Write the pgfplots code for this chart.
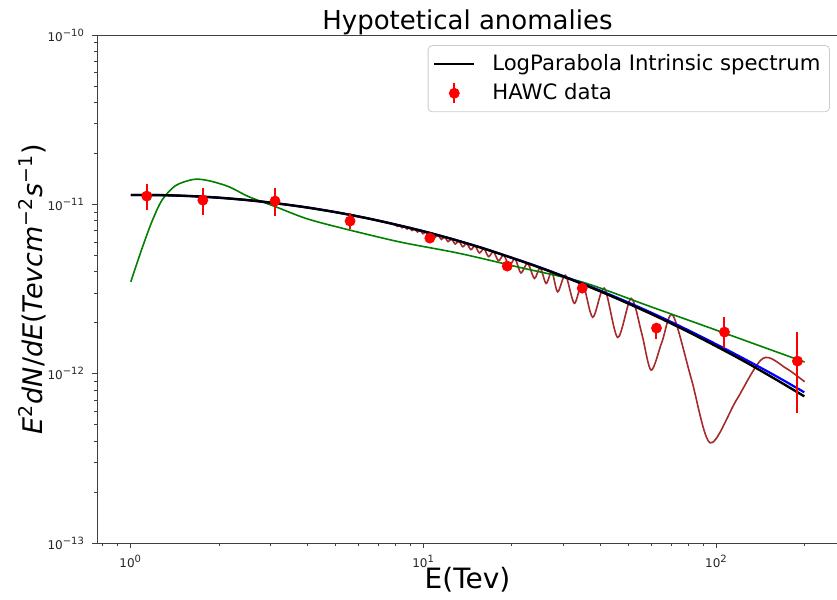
\documentclass[border=0pt]{standalone}
\usepackage{fontspec}
\setmainfont{DejaVu Sans}
\usepackage{pgfplots}
\pgfplotsset{compat=1.18}
\definecolor{mplbrown}{HTML}{A52A2A}
\definecolor{mplgreen}{HTML}{008000}
\definecolor{mplblue}{HTML}{0000FF}
\definecolor{mplred}{HTML}{FF0000}
\begin{document}
\begin{tikzpicture}
\useasboundingbox (-48.5pt,-28.5pt) rectangle (370pt,271.5pt);
\begin{axis}[
  at={(0,0)}, anchor=south west,
  scale only axis, width=370.5pt, height=254pt,
  xmode=log, ymode=log,
  xmin=0.767, xmax=260, ymin=1e-13, ymax=1e-10,
  xtick={1,10,100},
  xticklabels={10\textsuperscript{0},10\textsuperscript{1},10\textsuperscript{2}},
  ytick={1e-13,1e-12,1e-11,1e-10},
  yticklabels={10\textsuperscript{−13},10\textsuperscript{−12},10\textsuperscript{−11},10\textsuperscript{−10}},
  minor xtick={0.8,0.9,2,3,4,5,6,7,8,9,20,30,40,50,60,70,80,90,200},
  minor ytick={2e-13,3e-13,4e-13,5e-13,6e-13,7e-13,8e-13,9e-13,2e-12,3e-12,4e-12,5e-12,6e-12,7e-12,8e-12,9e-12,2e-11,3e-11,4e-11,5e-11,6e-11,7e-11,8e-11,9e-11},
  tick align=outside, tick pos=left,
  major tick length=2.5pt, minor tick length=1.5pt,
  ticklabel style={font=\fontsize{6}{7}\selectfont, text=black!85},
  axis line style={black!75},
  every tick/.style={black!75},
  title={Hypotetical anomalies},
  title style={font=\fontsize{13}{15}\selectfont, at={(axis description cs:0.5,1.0157)}, anchor=base, yshift=-7pt},
  xlabel={E(Tev)},
  xlabel style={font=\fontsize{14}{16}\selectfont, at={(axis description cs:0.5,-0.0728)}, anchor=center},
  ylabel={\textit{E}\textsuperscript{2}\textit{dN}/\textit{dE}(\textit{Tevcm}\textsuperscript{−2}\textit{s}\textsuperscript{−1})},
  ylabel style={font=\fontsize{13.5}{16}\selectfont, at={(axis description cs:-0.0877,0.5)}, anchor=center},
  legend style={at={(axis description cs:0.989,0.98)}, anchor=north east, draw=black!20, rounded corners=2pt,
    font=\fontsize{10.6}{13}\selectfont, inner xsep=2.5pt, inner ysep=2.5pt, row sep=1pt, cells={anchor=west}},
  legend cell align=left,
]
% brown oscillating curve
\addplot[mplbrown, line width=0.8pt, smooth, forget plot] coordinates {
(1,1.135e-11)(1.259,1.134e-11)(1.585,1.120e-11)(1.995,1.095e-11)(2.512,1.059e-11)(3.162,1.013e-11)(3.981,9.596e-12)(5.012,8.99e-12)(6.310,8.33e-12)
(7.843,7.674e-12)(8.130,7.411e-12)(8.282,7.506e-12)(8.439,7.279e-12)(8.602,7.389e-12)(8.772,7.152e-12)(8.949,7.269e-12)(9.132,7.011e-12)
(9.324,7.141e-12)(9.524,6.867e-12)(9.732,7.007e-12)(9.950,6.709e-12)(10.178,6.870e-12)(10.417,6.554e-12)(10.667,6.725e-12)(10.929,6.384e-12)
(11.204,6.573e-12)(11.494,6.209e-12)(11.799,6.413e-12)(12.121,6.028e-12)(12.461,6.246e-12)(12.821,5.832e-12)(13.201,6.069e-12)(13.605,5.621e-12)
(14.035,5.882e-12)(14.493,5.404e-12)(14.981,5.685e-12)(15.504,5.165e-12)(16.064,5.476e-12)(16.667,4.913e-12)(17.316,5.255e-12)(18.018,4.641e-12)
(18.779,5.019e-12)(19.608,4.331e-12)(20.513,4.767e-12)(21.5,3.936e-12)(22.65,4.490e-12)(23.9,3.650e-12)(25.0,4.223e-12)(26.2,3.411e-12)
(27.4,4.0e-12)(28.7,3.044e-12)(30.5,3.814e-12)(32.7,2.602e-12)(34.9,3.427e-12)(37.8,2.154e-12)(41.4,3.202e-12)(46.0,1.638e-12)
(51.1,2.785e-12)(55.63,1.714e-12)(59.8,1.050e-12)(65.12,1.537e-12)(70.9,2.219e-12)(82.1,9.29e-13)(95.15,3.907e-13)(117.0,6.99e-13)
(144.0,1.231e-12)(173.1,1.075e-12)(200,8.96e-13)
};
% green curve
\addplot[mplgreen, line width=0.8pt, smooth, forget plot] coordinates {
(1.0,3.49e-12)(1.093,5.50e-12)(1.183,7.97e-12)(1.279,1.060e-11)(1.422,1.290e-11)(1.642,1.405e-11)(1.848,1.379e-11)(2.163,1.271e-11)
(2.532,1.109e-11)(3.124,9.68e-12)(3.957,8.27e-12)(5.142,7.31e-12)(8.246,6.01e-12)(13.22,5.14e-12)(21.21,4.25e-12)(34.83,3.475e-12)
(59.0,2.504e-12)(106.5,1.737e-12)(200,1.171e-12)
};
% blue curve
\addplot[mplblue, line width=1.1pt, smooth, forget plot] coordinates {
(1,1.135e-11)(1.259,1.134e-11)(1.585,1.120e-11)(1.995,1.095e-11)(2.512,1.059e-11)(3.162,1.013e-11)(3.981,9.596e-12)(5.012,8.99e-12)
(6.310,8.33e-12)(7.943,7.63e-12)(10,6.93e-12)(12.59,6.22e-12)(15.85,5.53e-12)(19.95,4.85e-12)(25.12,4.23e-12)(31.62,3.64e-12)
(39.81,3.11e-12)(50.12,2.63e-12)(63.10,2.20e-12)(79.43,1.82e-12)(100,1.49e-12)(125.9,1.21e-12)(158.5,9.75e-13)(199.5,7.77e-13)
};
% black LogParabola
\addplot[black, line width=1.2pt, smooth,
  legend image code/.code={\path[draw=none,fill=none] (0pt,0pt) -- (27pt,0pt); \draw[black, line width=1.2pt] (0pt,0pt)--(20pt,0pt);}] coordinates {
(1,1.135e-11)(1.259,1.134e-11)(1.585,1.120e-11)(1.995,1.095e-11)(2.512,1.059e-11)(3.162,1.013e-11)(3.981,9.596e-12)(5.012,8.99e-12)
(6.310,8.33e-12)(7.943,7.63e-12)(10,6.93e-12)(12.59,6.22e-12)(15.85,5.52e-12)(19.95,4.84e-12)(25.12,4.21e-12)(31.62,3.62e-12)
(39.81,3.08e-12)(50.12,2.59e-12)(63.10,2.16e-12)(79.43,1.78e-12)(100,1.45e-12)(125.9,1.17e-12)(158.5,9.31e-13)(199.5,7.35e-13)
};
\addlegendentry{LogParabola Intrinsic spectrum}
% HAWC data
\addplot[only marks, mark=*, mark size=2.5pt, color=mplred,
  legend image code/.code={\path[draw=none,fill=none] (0pt,0pt) -- (27pt,0pt); \draw[mplred, line width=1pt] (10pt,-5pt)--(10pt,5pt); \fill[mplred] (10pt,0pt) circle (2.5pt);},
  error bars/.cd, y dir=both, y explicit, error mark=none,
  error bar style={line width=1pt, mplred}] coordinates {
(1.134,1.119e-11) += (0,0.199e-11) -= (0,0.194e-11)
(1.763,1.059e-11) += (0,0.188e-11) -= (0,0.194e-11)
(3.11,1.046e-11) += (0,0.201e-11) -= (0,0.193e-11)
(5.61,7.97e-12) += (0,0.92e-12) -= (0,0.82e-12)
(10.5,6.32e-12) += (0,0.3e-12) -= (0,0.3e-12)
(19.3,4.32e-12) += (0,0.2e-12) -= (0,0.2e-12)
(34.8,3.20e-12) += (0,0.15e-12) -= (0,0.15e-12)
(62.4,1.859e-12) += (0,0.14e-12) -= (0,0.26e-12)
(106.5,1.761e-12) += (0,0.398e-12) -= (0,0.345e-12)
(189,1.187e-12) += (0,0.574e-12) -= (0,0.602e-12)
};
\addlegendentry{HAWC data}
\end{axis}
\end{tikzpicture}
\end{document}
